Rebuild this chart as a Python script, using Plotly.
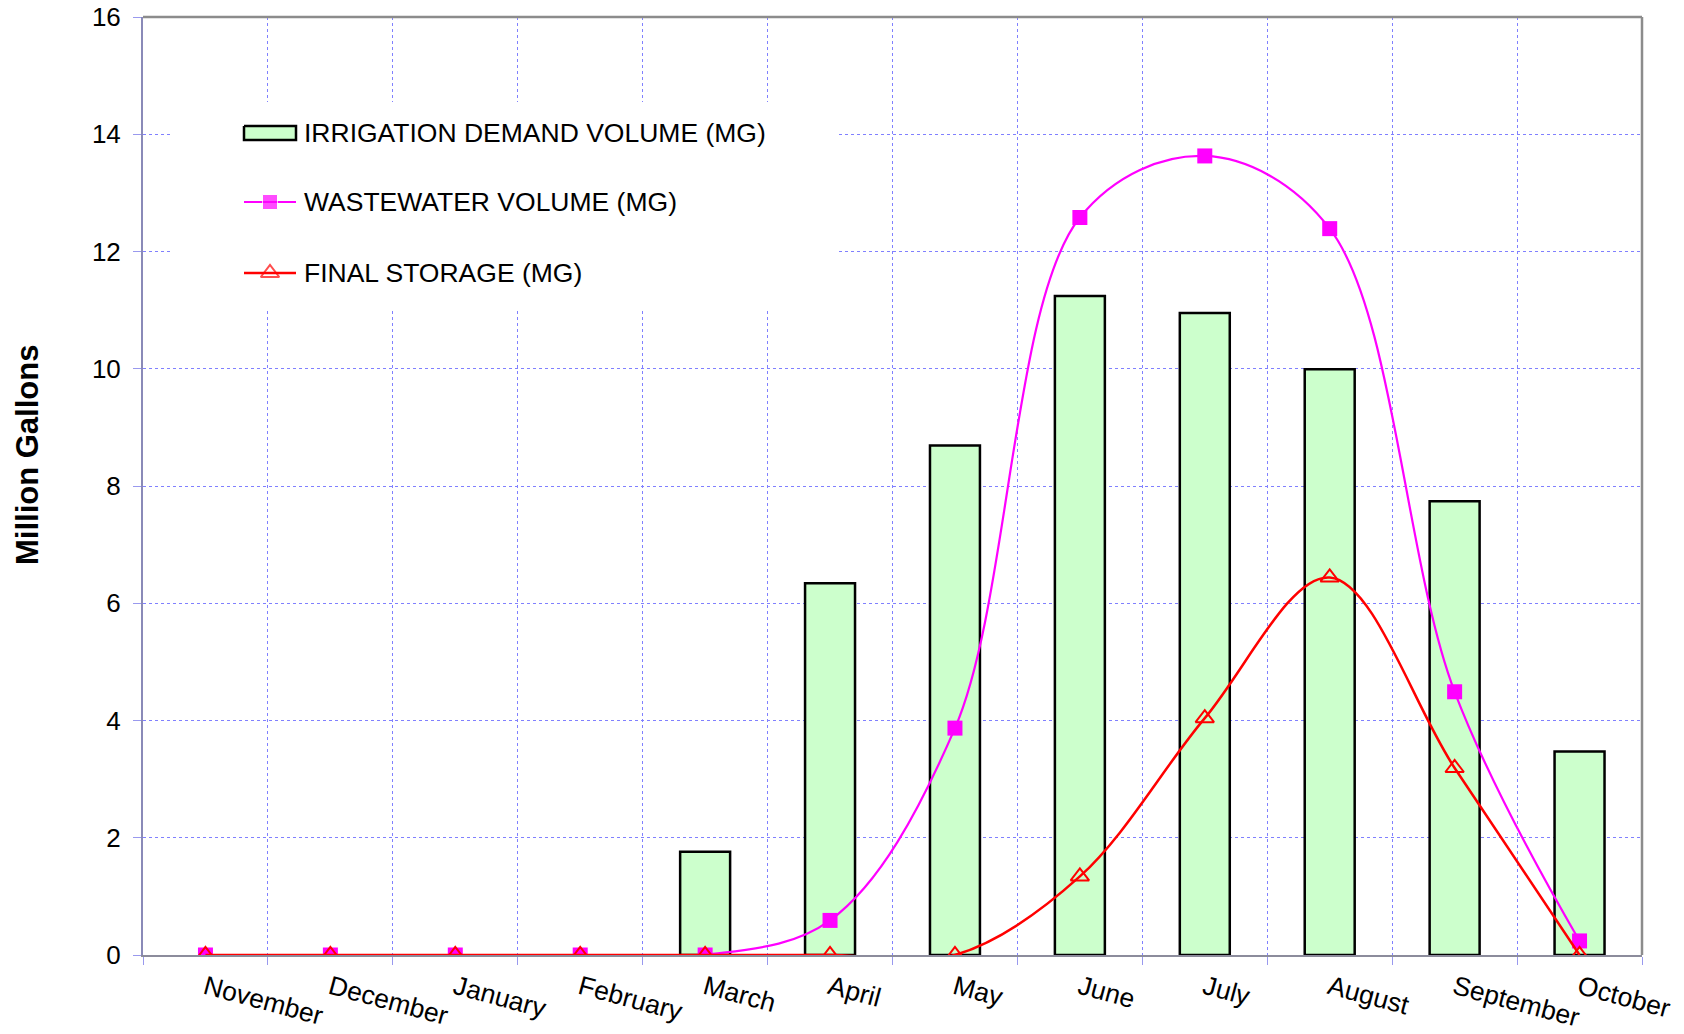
import plotly.graph_objects as go

months = ["November", "December", "January", "February", "March", "April",
          "May", "June", "July", "August", "September", "October"]
irrigation_demand = [0, 0, 0, 0, 1.76, 6.34, 8.69, 11.24, 10.95, 9.99, 7.74, 3.47]
wastewater_volume = [0, 0, 0, 0, 0, 0.59, 3.87, 12.58, 13.63, 12.39, 4.49, 0.24]
final_storage = [0, 0, 0, 0, 0, 0, 0, 1.34, 4.04, 6.44, 3.19, 0]
y_ticks = [0, 2, 4, 6, 8, 10, 12, 14, 16]

legend_names = ["IRRIGATION DEMAND VOLUME (MG)", "WASTEWATER VOLUME (MG)", "FINAL STORAGE (MG)"]

FONT = "Liberation Sans, Arial, sans-serif"
GRID = "#8080ff"
BAR_FILL = "#ccffcc"
MAGENTA = "#ff00ff"
RED = "#ff0000"

fig = go.Figure()

fig.add_trace(go.Bar(
    x=months, y=[v if v != 0 else None for v in irrigation_demand],
    width=0.4, marker=dict(color=BAR_FILL, line=dict(color="black", width=2.5)),
    name=legend_names[0]))

fig.add_trace(go.Scatter(
    x=months, y=wastewater_volume, mode="lines+markers",
    line=dict(color=MAGENTA, width=2.2, shape="spline", smoothing=1.0),
    marker=dict(symbol="square", size=15, color=MAGENTA),
    name=legend_names[1]))

fig.add_trace(go.Scatter(
    x=months, y=final_storage, mode="lines+markers",
    line=dict(color=RED, width=2.5, shape="spline", smoothing=1.0),
    marker=dict(symbol="triangle-up-open", size=16, color=RED, line=dict(width=2, color=RED)),
    name=legend_names[2]))

# page-pixel geometry of the plot area (body margin removed via post_script)
L, R, T, B = 143, 1642, 17, 955
W, H = 1684, 1034

# ---- manual legend drawn on a pixel-scaled overlay axis ----
fig.add_trace(go.Scatter(x=[172, 838, 838, 172, 172], y=[102, 102, 311, 311, 102],
                         xaxis="x2", yaxis="y2", mode="lines", fill="toself",
                         fillcolor="white", line=dict(width=0, color="white"),
                         hoverinfo="skip"))
fig.add_trace(go.Scatter(x=[244, 296, 296, 244, 244], y=[126, 126, 140, 140, 126],
                         xaxis="x2", yaxis="y2", mode="lines", fill="toself",
                         fillcolor=BAR_FILL, line=dict(width=2.5, color="black"),
                         hoverinfo="skip"))
fig.add_trace(go.Scatter(x=[244, 270, 296], y=[202, 202, 202], xaxis="x2", yaxis="y2",
                         mode="lines+markers", line=dict(color=MAGENTA, width=2.2),
                         marker=dict(symbol="square", size=[0, 15, 0], color=MAGENTA),
                         hoverinfo="skip"))
fig.add_trace(go.Scatter(x=[244, 270, 296], y=[273, 273, 273], xaxis="x2", yaxis="y2",
                         mode="lines+markers", line=dict(color=RED, width=2.5),
                         marker=dict(symbol="triangle-up-open", size=[0, 16, 0], color=RED,
                                     line=dict(width=2, color=RED)),
                         hoverinfo="skip"))

annotations = []
for name, yy in zip(legend_names, [133, 202, 273]):
    annotations.append(dict(text=name, x=302, y=yy, xref="x2", yref="y2",
                            xanchor="left", yanchor="middle", showarrow=False,
                            font=dict(family=FONT, size=26.5, color="black")))
annotations.append(dict(text="Million Gallons", textangle=-90,
                        x=(27 - L) / (R - L), y=(B - 455) / (B - T),
                        xref="paper", yref="paper", xanchor="center", yanchor="middle",
                        showarrow=False,
                        font=dict(family=FONT, size=31, color="black", weight="bold")))

fig.update_layout(
    width=W, height=H,
    margin=dict(l=L, r=W - R, t=T, b=H - B, pad=0, autoexpand=False),
    paper_bgcolor="white", plot_bgcolor="white",
    showlegend=False,
    font=dict(family=FONT, color="black"),
    annotations=annotations,
    xaxis=dict(type="category", categoryorder="array", categoryarray=months,
               range=[-0.5, 11.5], tickson="boundaries", automargin=False,
               ticks="outside", ticklen=8, tickcolor="#9999ee", tickwidth=1,
               showgrid=True, gridcolor=GRID, gridwidth=1, griddash="dot",
               showline=True, linecolor="#8c8c9c", linewidth=2,
               zeroline=False, tickangle=15, ticklabelstandoff=5,
               ticklabeloverflow="allow",
               tickfont=dict(family=FONT, size=26.5, color="black")),
    yaxis=dict(range=[0, 16], tickvals=y_ticks, automargin=False,
               ticks="outside", ticklen=8, tickcolor="#9999ee", tickwidth=1,
               showgrid=True, gridcolor=GRID, gridwidth=1, griddash="dot",
               showline=True, linecolor="#8a8ab8", linewidth=2,
               zeroline=False, ticklabelstandoff=7, ticklabeloverflow="allow",
               tickfont=dict(family=FONT, size=26, color="black")),
    xaxis2=dict(overlaying="x", range=[L, R], visible=False, anchor="y2"),
    yaxis2=dict(overlaying="y", range=[B, T], visible=False, anchor="x2"),
    shapes=[
        dict(type="line", xref="paper", yref="paper", x0=0, x1=1, y0=1, y1=1,
             line=dict(color="#8c8c8c", width=2.5), layer="above"),
        dict(type="line", xref="paper", yref="paper", x0=1, x1=1, y0=0, y1=1,
             line=dict(color="#8c8c8c", width=2.5), layer="above"),
    ],
)

fig.write_html("out.html",
               config={"displayModeBar": False, "staticPlot": True},
               post_script="document.body.style.margin='0';document.body.style.overflow='hidden';")
